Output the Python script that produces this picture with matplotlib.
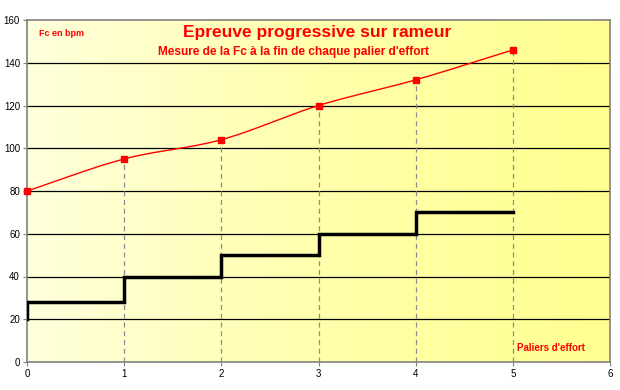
import matplotlib
matplotlib.use("Agg")
import matplotlib.pyplot as plt
from matplotlib.colors import LinearSegmentedColormap
import numpy as np

# data
paliers = [0, 1, 2, 3, 4, 5]
fc_bpm = [80, 95, 104, 120, 132, 146]
step_x = [0, 0, 1, 1, 2, 2, 3, 3, 4, 4, 5]
step_y = [20, 28, 28, 40, 40, 50, 50, 60, 60, 70, 70]
yticks = [0, 20, 40, 60, 80, 100, 120, 140, 160]
xticks = [0, 1, 2, 3, 4, 5, 6]

RED = "#FF0000"
FONT = ["Liberation Sans", "DejaVu Sans"]


def smooth(xs, ys, n=30):
    # Catmull-Rom like Excel smoothed line
    px = np.array(xs, float)
    py = np.array(ys, float)
    px = np.concatenate([[2 * px[0] - px[1]], px, [2 * px[-1] - px[-2]]])
    py = np.concatenate([[2 * py[0] - py[1]], py, [2 * py[-1] - py[-2]]])
    ox, oy = [], []
    for i in range(1, len(px) - 2):
        t = np.linspace(0, 1, n)
        for arr, out in ((px, ox), (py, oy)):
            p0, p1, p2, p3 = arr[i - 1:i + 3]
            out.extend(0.5 * ((2 * p1) + (-p0 + p2) * t
                              + (2 * p0 - 5 * p1 + 4 * p2 - p3) * t ** 2
                              + (-p0 + 3 * p1 - 3 * p2 + p3) * t ** 3))
    return ox, oy


fig = plt.figure(figsize=(6.2, 3.9), dpi=100)
ax = fig.add_axes([27 / 620, 28 / 390, 583 / 620, 342 / 390])

# yellow gradient background
cmap = LinearSegmentedColormap.from_list("bg", ["#FFFFDC", "#FFFFAC", "#FFFF90"])
grad = np.linspace(0, 1, 256).reshape(1, -1)
ax.imshow(grad, extent=[0, 6, 0, 160], aspect="auto", cmap=cmap, zorder=0)

ax.set_xlim(0, 6)
ax.set_ylim(0, 160)

for y in yticks[1:-1]:
    ax.axhline(y, color="black", lw=0.9, zorder=1)

# drop lines
ax.vlines(paliers[1:], 0, fc_bpm[1:], colors="#8c8c8c", linestyles=(0, (4, 3)),
          lw=0.9, zorder=2)

sx, sy = smooth(paliers, fc_bpm)
ax.plot(sx, sy, color=RED, lw=1.0, zorder=3)
ax.plot(paliers, fc_bpm, ls="none", marker="s", ms=5, color=RED, zorder=4,
        clip_on=False)

ax.plot(step_x, step_y, color="black", lw=2.5, solid_joinstyle="miter", zorder=3)

ax.set_xticks(xticks)
ax.set_yticks(yticks)
ax.tick_params(labelsize=7, length=3, color="#808080", pad=2)
for lab in ax.get_xticklabels() + ax.get_yticklabels():
    lab.set_family(FONT)
for s in ax.spines.values():
    s.set_color("#808080")
    s.set_linewidth(1.2)

fig.text(317 / 620, 1 - 33 / 390, "Epreuve progressive sur rameur",
         ha="center", va="center", color=RED, fontsize=12.5, fontweight="bold",
         family=FONT)
fig.text(293 / 620, 1 - 52.5 / 390, "Mesure de la Fc à la fin de chaque palier d'effort",
         ha="center", va="center", color=RED, fontsize=8.6, fontweight="bold",
         family=FONT)
fig.text(39 / 620, 1 - 33.5 / 390, "Fc en bpm", ha="left", va="center",
         color=RED, fontsize=6.5, fontweight="bold", family=FONT)
fig.text(517 / 620, 1 - 348 / 390, "Paliers d'effort", ha="left", va="center",
         color=RED, fontsize=7, fontweight="bold", family=FONT)

fig.savefig("out.png", dpi=100)
